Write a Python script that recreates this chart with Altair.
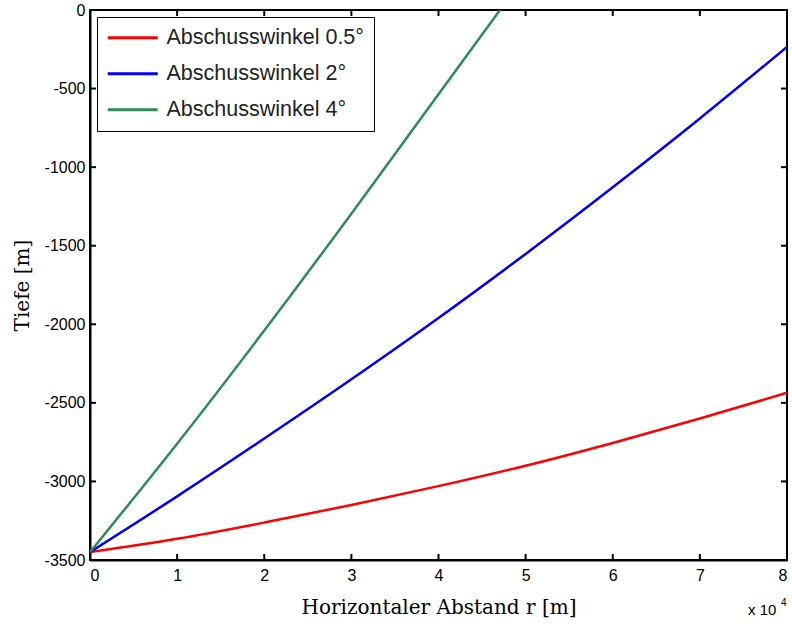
import altair as alt
import pandas as pd

# Horizontal distance in units of 10^4 m, depth in m
r_flat = [0, 1, 2, 3, 4, 5, 6, 7, 8]
depth_05 = [-3450, -3365, -3262, -3150, -3030, -2900, -2755, -2600, -2436]

r_mid = [0, 1, 2, 3, 4, 5, 6, 7, 8]
depth_2 = [-3450, -3095, -2727, -2350, -1960, -1552, -1128, -690, -235]

r_steep = [0, 1, 2, 3, 4, 4.706]
depth_4 = [-3450, -2760, -2040, -1296, -536, 0]

series_names = ["Abschusswinkel 0.5°", "Abschusswinkel 2°", "Abschusswinkel 4°"]
series_colors = ["#ff0000", "#0000ff", "#2e8b57"]

x_ticks = [0, 1, 2, 3, 4, 5, 6, 7, 8]
y_ticks = [-3500, -3000, -2500, -2000, -1500, -1000, -500, 0]

W, H = 697, 550

rows = []
for name, xs, ys in zip(series_names, [r_flat, r_mid, r_steep], [depth_05, depth_2, depth_4]):
    for i, (x, y) in enumerate(zip(xs, ys)):
        rows.append({"r": x * 10000, "depth": y, "series": name, "order": i})
df = pd.DataFrame(rows)

x_scale = alt.Scale(domain=[0, 80000], nice=False, zero=False)
y_scale = alt.Scale(domain=[-3500, 0], nice=False, zero=False)

lines = alt.Chart(df).mark_line(strokeWidth=2.5, interpolate="monotone", clip=True).encode(
    x=alt.X("r:Q", scale=x_scale,
            axis=alt.Axis(title="Horizontaler Abstand r [m]", values=[v * 10000 for v in x_ticks],
                          labelExpr="datum.value / 10000", ticks=False, grid=False,
                          labelPadding=7, titlePadding=14, labelOverlap=False, labelBound=False)),
    y=alt.Y("depth:Q", scale=y_scale,
            axis=alt.Axis(title="Tiefe [m]", values=y_ticks, ticks=False, grid=False,
                          labelExpr="datum.value == 0 ? '0' : '-' + format(abs(datum.value), 'd')",
                          labelPadding=5, titlePadding=12, labelOverlap=False, labelBound=False)),
    color=alt.Color("series:N",
                    scale=alt.Scale(domain=series_names, range=series_colors),
                    legend=alt.Legend(title=None, orient="top-left", offset=7,
                                      symbolType="M-5,0H5", symbolSize=100, symbolStrokeWidth=3,
                                      symbolOffset=15,
                                      labelFontSize=21.5, labelFont="Liberation Sans", labelOffset=23,
                                      labelColor="#222", rowPadding=13, padding=10,
                                      strokeColor="black", fillColor="white", cornerRadius=0,
                                      labelLimit=400)),
    order="order:Q",
)

tick_x_df = pd.DataFrame({"r": [v * 10000 for v in x_ticks]})
tick_y_df = pd.DataFrame({"depth": y_ticks})

ticks_bottom = alt.Chart(tick_x_df).mark_rule(color="black", strokeWidth=2).encode(
    x=alt.X("r:Q", scale=x_scale), y=alt.value(H), y2=alt.value(H - 6))
ticks_top = alt.Chart(tick_x_df).mark_rule(color="black", strokeWidth=2).encode(
    x=alt.X("r:Q", scale=x_scale), y=alt.value(0), y2=alt.value(6))
ticks_left = alt.Chart(tick_y_df).mark_rule(color="black", strokeWidth=2).encode(
    y=alt.Y("depth:Q", scale=y_scale), x=alt.value(0), x2=alt.value(6))
ticks_right = alt.Chart(tick_y_df).mark_rule(color="black", strokeWidth=2).encode(
    y=alt.Y("depth:Q", scale=y_scale), x=alt.value(W), x2=alt.value(W - 6))

# exponent of the x axis
exp_base = alt.Chart(pd.DataFrame({"t": ["x 10"]})).mark_text(
    font="Liberation Sans", fontSize=15, align="left", baseline="alphabetic", color="black"
).encode(text="t:N", x=alt.value(W - 39), y=alt.value(H + 55))
exp_sup = alt.Chart(pd.DataFrame({"t": ["4"]})).mark_text(
    font="Liberation Sans", fontSize=10, align="left", baseline="alphabetic", color="black"
).encode(text="t:N", x=alt.value(W - 6), y=alt.value(H + 46))

chart = alt.layer(lines, ticks_bottom, ticks_top, ticks_left, ticks_right, exp_base, exp_sup).properties(
    width=W, height=H,
    autosize=alt.AutoSizeParams(type="none"),
    padding={"left": 90, "top": 10, "right": 5, "bottom": 66},
    background="white",
).configure_view(
    stroke="black", strokeWidth=2
).configure_axis(
    domainColor="black", domainWidth=2,
    labelFont="Liberation Sans", labelFontSize=16, labelColor="black",
    titleFont="DejaVu Serif", titleFontSize=20, titleFontWeight="normal", titleColor="black",
)

chart.save("out.html", embed_options={"renderer": "svg", "actions": False})
